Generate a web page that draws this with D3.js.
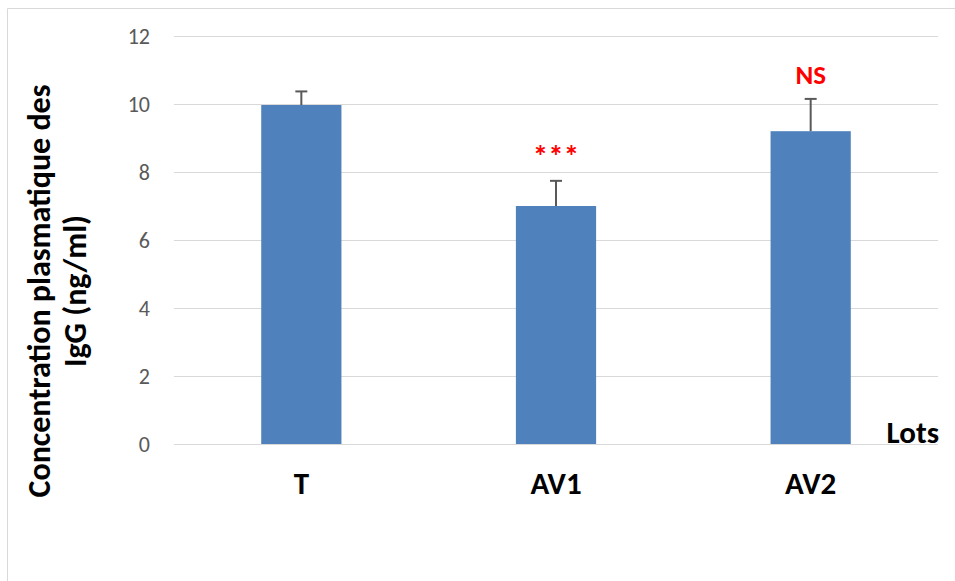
<!DOCTYPE html>
<html><head><meta charset="utf-8">
<script src="https://cdn.jsdelivr.net/npm/d3@7"></script>
<style>body{margin:0;background:#fff;}svg{display:block;}</style>
</head><body>
<svg id="c" width="955" height="581"></svg>
<script>
const categories = ["T", "AV1", "AV2"];
const values = [9.97, 7.0, 9.2];
const errors = [0.4, 0.74, 0.95];
const marks = ["", "***", "NS"];
const yTicks = [0, 2, 4, 6, 8, 10, 12];

const svg = d3.select("#c");
const font = "Calibri, Carlito, 'Open Sans', 'Liberation Sans', sans-serif";
// frame
svg.append("path").attr("d", "M7.5,581 V8.5 H955").attr("fill", "none").attr("stroke", "#d9d9d9").attr("stroke-width", 1);

const x = d3.scaleBand().domain(categories).range([174, 938]).padding(0);
const y = d3.scaleLinear().domain([0, 12]).range([444, 36]);
const barW = x.bandwidth() * 0.315;

const yAxis = d3.axisLeft(y).tickValues(yTicks).tickSize(-(938 - 174)).tickPadding(24);
const g = svg.append("g").attr("transform", "translate(174,0)").call(yAxis);
g.select(".domain").remove();
g.selectAll(".tick line").attr("stroke", "#d9d9d9").attr("stroke-width", 1);
g.selectAll(".tick text").attr("fill", "#595959").style("font-family", font).style("font-size", "22px");

svg.selectAll("rect.bar").data(categories).enter().append("rect")
  .attr("class", "bar")
  .attr("x", d => x(d) + x.bandwidth() / 2 - barW / 2)
  .attr("width", barW)
  .attr("y", (d, i) => y(values[i]))
  .attr("height", (d, i) => y(0) - y(values[i]))
  .attr("fill", "#4f81bd");

// error bars
categories.forEach((c, i) => {
  const cx = x(c) + x.bandwidth() / 2;
  svg.append("line").attr("x1", cx).attr("x2", cx).attr("y1", y(values[i])).attr("y2", y(values[i] + errors[i]))
    .attr("stroke", "#595959").attr("stroke-width", 2);
  svg.append("line").attr("x1", cx - 6).attr("x2", cx + 6).attr("y1", y(values[i] + errors[i])).attr("y2", y(values[i] + errors[i]))
    .attr("stroke", "#595959").attr("stroke-width", 2);
  if (marks[i]) {
    const star = marks[i] === "***";
    svg.append("text").attr("x", cx).attr("y", y(values[i] + errors[i]) - 15)
      .attr("text-anchor", "middle").attr("fill", "#ff0000").style("font-family", font)
      .style("font-weight", "bold").style("font-size", star ? "31px" : "27px").text(marks[i]);
  }
});

// category labels
svg.selectAll("text.cat").data(categories).enter().append("text")
  .attr("class", "cat").attr("x", d => x(d) + x.bandwidth() / 2).attr("y", 494)
  .attr("text-anchor", "middle").style("font-family", font).style("font-weight", "bold").style("font-size", "31px")
  .attr("fill", "#000").text(d => d);

svg.append("text").attr("x", 939).attr("y", 443).attr("text-anchor", "end")
  .style("font-family", font).style("font-weight", "bold").style("font-size", "31px").text("Lots");

svg.append("text").attr("transform", "translate(50,291) rotate(-90)").attr("text-anchor", "middle")
  .style("font-family", font).style("font-weight", "bold").style("font-size", "32px").text("Concentration plasmatique des");
svg.append("text").attr("transform", "translate(86,291) rotate(-90)").attr("text-anchor", "middle")
  .style("font-family", font).style("font-weight", "bold").style("font-size", "32px").text("IgG (ng/ml)");
</script>
</body></html>
